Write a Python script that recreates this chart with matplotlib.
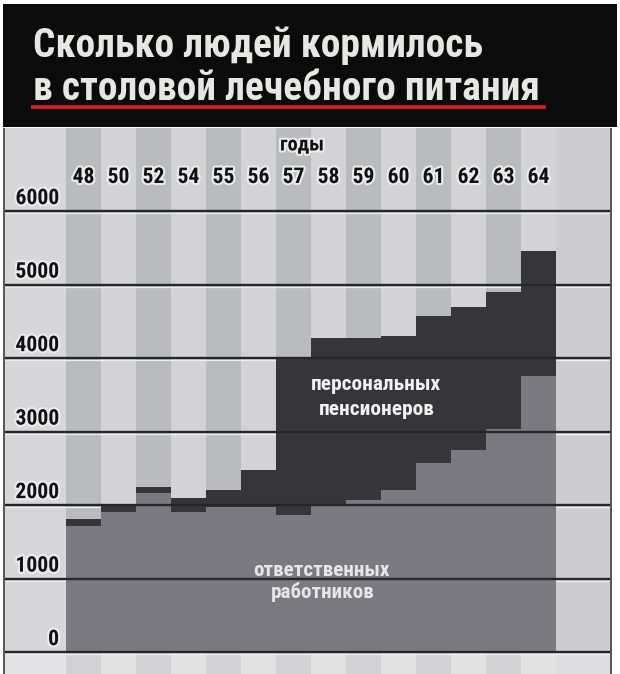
import matplotlib
matplotlib.use('Agg')
import matplotlib.pyplot as plt
import matplotlib.font_manager as fm
import matplotlib.patheffects as pe
from matplotlib.patches import Rectangle

# ---------------- data ----------------
years = ['48', '50', '52', '54', '55', '56', '57', '58', '59', '60', '61', '62', '63', '64']
workers = [1710, 1900, 2160, 1900, 1970, 1970, 1865, 1990, 2070, 2210, 2570, 2750, 3030, 3750]
pensioners = [100, 90, 90, 200, 240, 510, 2155, 2280, 2200, 2090, 2000, 1940, 1870, 1700]
yticks = [0, 1000, 2000, 3000, 4000, 5000, 6000]
title_lines = ['Сколько людей кормилось', 'в столовой лечебного питания']
axis_label = 'годы'
workers_label = ['ответственных', 'работников']
pensioners_label = ['персональных', 'пенсионеров']

# ---------------- fonts ----------------
names = {f.name for f in fm.fontManager.ttflist}
fp_base = None
for cand in ['Liberation Sans Narrow', 'Roboto Condensed', 'DejaVu Sans Condensed',
             'Open Sans Condensed', 'Noto Sans Condensed']:
    if cand in names:
        fp_base = dict(family=[cand, 'DejaVu Sans'], weight='bold')
        break
if fp_base is None:
    cond = [f for f in fm.fontManager.ttflist
            if str(f.stretch) in ('condensed', 'semi-condensed', 'extra-condensed')
            or (isinstance(f.stretch, int) and f.stretch < 100)]
    cond_b = [f for f in cond if (f.weight == 'bold' or (isinstance(f.weight, int) and f.weight >= 600))]
    if cond_b:
        fp_base = dict(fontproperties=fm.FontProperties(fname=cond_b[0].fname))
    else:
        fp_base = dict(family=['DejaVu Sans'], weight='bold')


def txt(ax, x, y, s, size, **kw):
    d = dict(fp_base)
    if 'fontproperties' in d:
        p = d['fontproperties'].copy()
        p.set_size(size)
        return ax.text(x, y, s, fontproperties=p, **kw)
    return ax.text(x, y, s, fontsize=size, **d, **kw)


W, H = 620, 674
fig = plt.figure(figsize=(W / 100, H / 100), dpi=100)
fig.patch.set_facecolor('white')

# pixel geometry helpers
COL_X0, COL_W = 66, 35           # first column left edge, column width (px)
Y0_PX, PX_PER_1000 = 652, 73.5   # zero line, scale
TOP_PX = 128


def dx(px):
    return (px - COL_X0) / COL_W


def dy(py):
    return (Y0_PX - py) / PX_PER_1000 * 1000


ax = fig.add_axes([0, 0, 1, (H - TOP_PX) / H])
ax.set_xlim(dx(0), dx(W))
ax.set_ylim(dy(H), dy(TOP_PX))
ax.axis('off')
ax.set_facecolor('white')

left_edge, right_edge = dx(4), dx(611)
n = len(years)
light, darkstripe = '#d3d3d5', '#babbbe'
ax.axvspan(left_edge, 0, color='#d7d7d9', lw=0, zorder=0)
for i in range(n):
    ax.axvspan(i, i + 1, color=darkstripe if i % 2 == 0 else light, lw=0, zorder=0)
ax.axvspan(n, right_edge, color='#cdcdd0', lw=0, zorder=0)
# lighter bottom strip below zero line
ax.axhspan(dy(H), 0, xmin=0, xmax=1, color='white', alpha=0.35, lw=0, zorder=0.2)

x = list(range(n))
ax.bar(x, workers, width=1.0, align='edge', color='#7a7a80', lw=0, zorder=1)
ax.bar(x, pensioners, bottom=workers, width=1.0, align='edge', color='#35353a', lw=0, zorder=1)

# grid lines
for v in yticks:
    ax.hlines(v - 2 / PX_PER_1000 * 1000, left_edge, right_edge, color='#eeeef0', lw=0.9, zorder=0.5)
    ax.hlines(v, left_edge, right_edge, color='#26262a', lw=1.7, zorder=3)
# borders
for xe in (left_edge, right_edge):
    ax.vlines(xe, dy(H), dy(TOP_PX), color='#55555a', lw=1.4, zorder=4)

halo = [pe.withStroke(linewidth=3, foreground='#ececee')]

fig.canvas.draw()
r = fig.canvas.get_renderer()


def fit(items, target_ws, maxsize):
    scale = 1.0
    for t, tw in zip(items, target_ws):
        w = t.get_window_extent(r).width
        scale = min(scale, tw / w)
    for t in items:
        t.set_fontsize(maxsize * scale)


# y tick labels
tl = [txt(ax, dx(59), v + 25, str(v), 17, ha='right', va='bottom', color='#111111',
          zorder=5, path_effects=halo) for v in yticks]
fit([tl[-1]], [44], 17)
for t in tl:
    t.set_fontsize(tl[-1].get_fontsize())

# year labels
yl = [txt(ax, i + 0.5, dy(177), s, 17, ha='center', va='center', color='#111111',
          zorder=5, path_effects=halo) for i, s in enumerate(years)]
fit(yl, [22] * n, 17)

g = txt(ax, dx(302), dy(145), axis_label, 16, ha='center', va='center', color='#111111',
        zorder=5, path_effects=halo)
fit([g], [44], 16)

# series labels
pl = [txt(ax, dx(376), dy(385), pensioners_label[0], 17, ha='center', va='center', color='#f2f2f2', zorder=5),
      txt(ax, dx(377), dy(409), pensioners_label[1], 17, ha='center', va='center', color='#f2f2f2', zorder=5)]
fit(pl, [130, 126], 17)
wl = [txt(ax, dx(322), dy(570), workers_label[0], 17, ha='center', va='center', color='#e6e6e8', zorder=5),
      txt(ax, dx(323), dy(592), workers_label[1], 17, ha='center', va='center', color='#e6e6e8', zorder=5)]
fit(wl, [136, 112], 17)

# ---------------- banner ----------------
axt = fig.add_axes([0, 0, 1, 1], zorder=5)
axt.set_xlim(0, W)
axt.set_ylim(H, 0)
axt.axis('off')
axt.patch.set_alpha(0)
axt.add_patch(Rectangle((3, 4), W - 6, 123, color='#0b0b0b', lw=0))
t1 = txt(axt, 33, 57, title_lines[0], 40, ha='left', va='baseline', color='#e6e6e2')
t2 = txt(axt, 33, 100, title_lines[1], 40, ha='left', va='baseline', color='#e6e6e2')
fig.canvas.draw()
fit([t1, t2], [450, 512], 40)
axt.plot([31, 546], [107, 107], color='#d82020', lw=2.6, solid_capstyle='butt')

fig.savefig('out.png', dpi=100)
